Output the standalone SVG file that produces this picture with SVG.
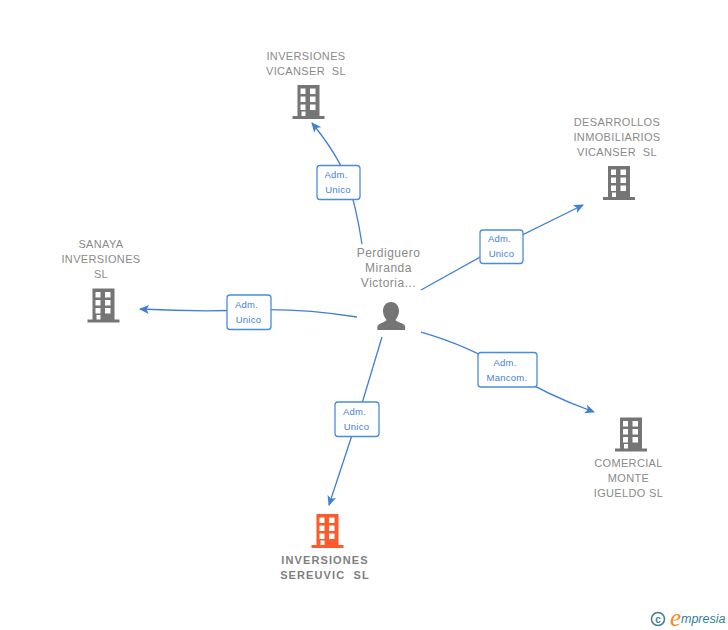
<svg xmlns="http://www.w3.org/2000/svg" width="728" height="630" viewBox="0 0 728 630">
<style>
text{font-family:"Liberation Sans",Arial,sans-serif;white-space:pre}
.n{font-size:11px;fill:#8a8a8a;text-anchor:middle;letter-spacing:.35px}
.p{font-size:12px;fill:#8a8a8a;text-anchor:middle;letter-spacing:.5px}
.o{font-size:11px;fill:#7f7f7f;text-anchor:middle;font-weight:bold;letter-spacing:1.1px}
.l{font-size:9.500px;fill:#3f7fd8;text-anchor:middle;letter-spacing:.25px}
.e{fill:none;stroke:#3f7fd8;stroke-width:1.300}
.b{fill:#fff;stroke:#4a8be0;stroke-width:1.300}
</style>
<defs>
<marker id="a" markerUnits="userSpaceOnUse" markerWidth="11" markerHeight="10" refX="9" refY="5" orient="auto"><path d="M0 0.500L10 5L0 9.500L2.500 5Z" fill="#3f7fd8"/></marker>
<g id="bld"><path d="M5 0H27V31H32V34H0V31H5ZM8 3.500V9H13V3.500ZM17.500 3.500V9H23V3.500ZM8 11.500V17H13V11.500ZM17.500 11.500V17H23V11.500ZM8 19.500V25H13V19.500ZM17.500 19.500V25H23V19.500ZM9 26.500V31H13V26.500Z" fill-rule="evenodd"/></g>
</defs>
<g id="connectors">
<path class="e" d="M362 244Q356 205 347 180T312 123" marker-end="url(#a)"/>
<path class="e" d="M421 290L500 246L583 205" marker-end="url(#a)"/>
<path class="e" d="M357 317Q300 308 249 310T140 309" marker-end="url(#a)"/>
<path class="e" d="M421 332Q470 346 507 370T594 412" marker-end="url(#a)"/>
<path class="e" d="M382 337L357 420L329 505" marker-end="url(#a)"/>
</g>
<g id="edge-labels">
<rect class="b" x="317" y="165.500" width="43" height="34" rx="3"/><text class="l" x="336" y="178">Adm.</text><text class="l" x="338" y="193">Unico</text>
<rect class="b" x="480" y="230" width="43" height="33.500" rx="3"/><text class="l" x="499.500" y="242">Adm.</text><text class="l" x="501.500" y="257">Unico</text>
<rect class="b" x="227" y="295" width="44" height="34.500" rx="3"/><text class="l" x="246.500" y="308">Adm.</text><text class="l" x="248.500" y="323">Unico</text>
<rect class="b" x="478" y="352.500" width="59" height="34.500" rx="3"/><text class="l" x="505" y="366">Adm.</text><text class="l" x="507" y="381">Mancom.</text>
<rect class="b" x="335" y="402" width="44" height="34.500" rx="3"/><text class="l" x="354.500" y="415">Adm.</text><text class="l" x="356.500" y="430">Unico</text>
</g>
<g id="person"><text class="p" x="388.500" y="257">Perdiguero</text><text class="p" x="388.500" y="272">Miranda</text><text class="p" x="388.500" y="287">Victoria...</text>
<path d="M391 302C396 302 399 306 399 311C399 315 397 318 395.500 320C396 322 404 323 405 326Q405.500 328 405 330H377.500Q377 328 377.500 326C379 323 386 322 386.500 320C385 318 383 315 383 311C383 306 386 302 391 302Z" fill="#757575"/></g>
<g id="n1" fill="#757575"><use href="#bld" x="292.500" y="85"/><text class="n" x="306" y="60">INVERSIONES</text><text class="n" x="306" y="75">VICANSER  SL</text></g>
<g id="n2" fill="#757575"><use href="#bld" x="603" y="166"/><text class="n" x="617" y="126">DESARROLLOS</text><text class="n" x="617" y="141">INMOBILIARIOS</text><text class="n" x="617" y="156">VICANSER  SL</text></g>
<g id="n3" fill="#757575"><use href="#bld" x="87.500" y="288.500"/><text class="n" x="101" y="248">SANAYA</text><text class="n" x="101" y="263">INVERSIONES</text><text class="n" x="101" y="278">SL</text></g>
<g id="n4" fill="#757575"><use href="#bld" x="615" y="417.500"/><text class="n" x="628.500" y="467">COMERCIAL</text><text class="n" x="628.500" y="482">MONTE</text><text class="n" x="628.500" y="497">IGUELDO SL</text></g>
<g id="n5" fill="#ff5a2b"><use href="#bld" x="311.500" y="514"/><text class="o" x="325" y="564">INVERSIONES</text><text class="o" x="325" y="579">SEREUVIC  SL</text></g>
<g id="logo"><circle cx="658" cy="619" r="6.500" fill="none" stroke="#3d7f95" stroke-width="1.500"/><text x="658" y="622.500" font-size="10" font-weight="bold" fill="#3d7f95" text-anchor="middle">c</text><text x="670" y="626" font-size="25" font-style="italic" fill="#f08a1d" style="font-family:'Liberation Serif',serif">e</text><text x="681" y="623" font-size="12.500" font-style="italic" fill="#2f7f96">mpresia</text></g>
</svg>
